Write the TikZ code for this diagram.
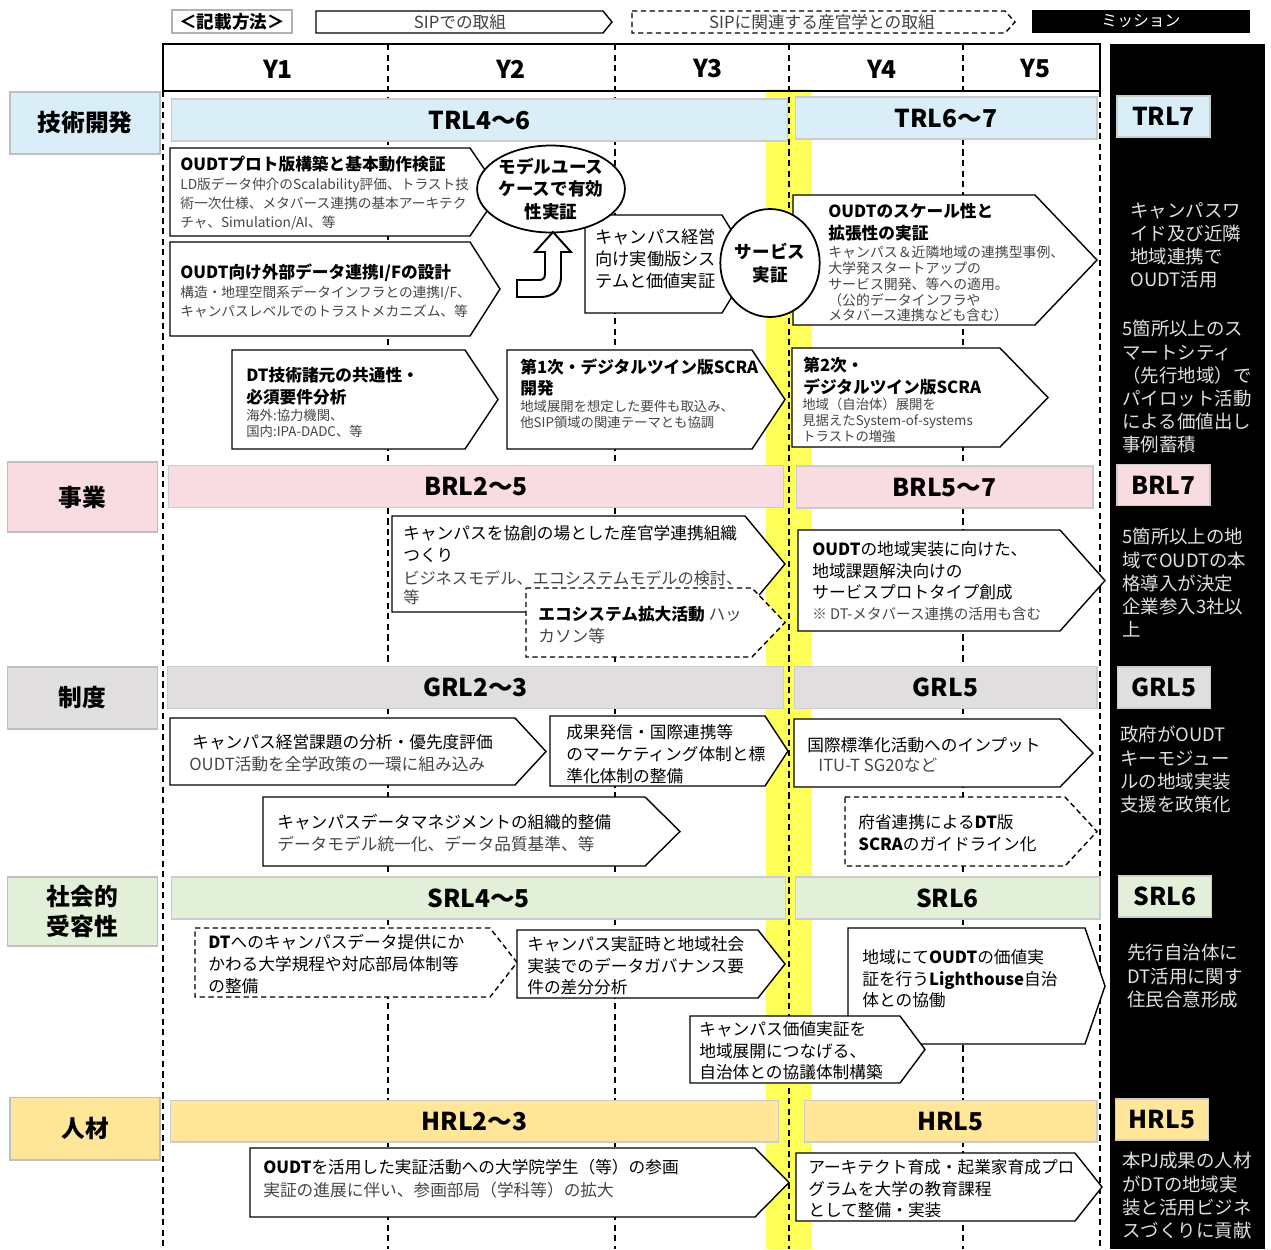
\documentclass[tikz,border=0pt]{standalone}
\usepackage{fontspec}
\setmainfont{Noto Sans CJK JP}
\usetikzlibrary{shapes.geometric}

\definecolor{trlc}{RGB}{218,238,247}
\definecolor{brlc}{RGB}{248,220,226}
\definecolor{grlc}{RGB}{224,222,222}
\definecolor{srlc}{RGB}{226,240,218}
\definecolor{hrlc}{RGB}{255,230,153}
\definecolor{bandc}{RGB}{255,255,90}
\definecolor{subc}{RGB}{70,70,70}

\newcommand{\hdf}{\fontsize{9.5}{12.4}\selectfont}
\newcommand{\smf}{\fontsize{7.8}{11}\selectfont}
\newcommand{\tnf}{\fontsize{7.6}{9.1}\selectfont}
\newcommand{\lvf}{\fontsize{14}{16}\selectfont\bfseries}
\newcommand{\msf}{\fontsize{10.5}{13.2}\selectfont}
% pentagon arrow box: style, left, top, body end, tip, bottom
\newcommand{\pent}[6]{\draw[#1] (#2,#3) -- (#4,#3) -- (#5,{(#3+#6)/2}) -- (#4,#6) -- (#2,#6) -- cycle;}

\tikzset{
  boxline/.style={draw=black, line width=0.8pt, fill=white, line join=miter},
  dashbox/.style={boxline, dash pattern=on 3pt off 2pt},
  gridline/.style={line width=0.7pt, dash pattern=on 3.5pt off 2.5pt},
  head/.style={anchor=north west, inner sep=0pt, align=left, font=\hdf\bfseries},
  plain/.style={anchor=north west, inner sep=0pt, align=left, font=\hdf},
  grey/.style={plain, text=subc},
  note/.style={anchor=north west, inner sep=0pt, align=left, font=\smf, text=subc},
  tnote/.style={note, font=\tnf},
  rowhd/.style={draw=black!25, line width=0.6pt, inner sep=0pt, align=center, font=\fontsize{13.5}{17}\selectfont\bfseries, minimum width=3cm},
  lvl/.style={draw=black!20, line width=0.6pt, inner sep=0pt, font=\lvf, minimum height=0.84cm},
  goal/.style={lvl, minimum width=1.86cm, minimum height=0.82cm},
  yr/.style={font=\lvf, inner sep=0pt},
  mission/.style={anchor=north west, inner sep=0pt, align=left, font=\msf, text=white!88!black},
}

\begin{document}
\begin{tikzpicture}[x=0.02cm, y=-0.02cm]
\fill[white] (0,0) rectangle (1271,1249);
\useasboundingbox (0,0) rectangle (1271,1249);

% legend
\node[draw=black!30, line width=0.6pt, minimum width=2.4cm, minimum height=0.46cm, inner sep=0pt, font=\fontsize{10}{12}\selectfont\bfseries] (legend) at (232,21.5) {＜記載方法＞};
\pent{boxline}{316}{11}{603}{612}{33}
\node[font=\hdf, text=black!75, inner sep=0pt] (sipown) at (460,22) {SIPでの取組};
\pent{dashbox}{632}{11}{1005}{1015}{33}
\node[font=\hdf, text=black!75, inner sep=0pt] (siprel) at (822,22) {SIPに関連する産官学との取組};
\fill[black] (1032,10) rectangle (1250,33);
\node[font=\fontsize{9}{11}\selectfont, text=white, inner sep=0pt] (missionhd) at (1141,21.5) {ミッション};

% background band, column and grid
\fill[bandc] (766,89) rectangle (812,1249);
\fill[black] (1110,44) rectangle (1265,1249);
\foreach \gx in {388,615,789,963}
  \draw[gridline] (\gx,44) -- (\gx,1249);
\draw[gridline] (163,91) -- (163,1249);
\draw[gridline] (1100,91) -- (1100,1249);
\draw[line width=1pt] (163,44) rectangle (1100,91);
\node[yr] (y1) at (278,69) {Y1};
\node[yr] (y2) at (511,69) {Y2};
\node[yr] (y3) at (708,69) {Y3};
\node[yr] (y4) at (882,69) {Y4};
\node[yr] (y5) at (1035,69) {Y5};

% row headers
\node[rowhd, fill=trlc, minimum height=1.24cm] (tech) at (85,123) {技術開発};
\node[rowhd, fill=brlc, minimum height=1.4cm] (biz) at (82.5,497) {事業};
\node[rowhd, fill=grlc, minimum height=1.24cm] (inst) at (82.5,698) {制度};
\node[rowhd, fill=srlc, minimum height=1.38cm] (soc) at (82.5,911.5) {社会的\\受容性};
\node[rowhd, fill=hrlc, minimum height=1.26cm] (hr) at (85,1128.5) {人材};

% readiness levels
\node[lvl, fill=trlc, minimum width=12.34cm] (trla) at (479.5,120) {TRL4～6};
\node[lvl, fill=trlc, minimum width=6.04cm] (trlb) at (946,118) {TRL6～7};
\node[lvl, fill=brlc, minimum width=12.32cm] (brla) at (476,486.5) {BRL2～5};
\node[lvl, fill=brlc, minimum width=5.94cm] (brlb) at (944.5,487) {BRL5～7};
\node[lvl, fill=grlc, minimum width=12.34cm] (grla) at (475.5,687.5) {GRL2～3};
\node[lvl, fill=grlc, minimum width=6.06cm] (grlb) at (945.5,687.5) {GRL5};
\node[lvl, fill=srlc, minimum width=12.3cm] (srla) at (478.5,898) {SRL4～5};
\node[lvl, fill=srlc, minimum width=6.1cm] (srlb) at (947.5,898) {SRL6};
\node[lvl, fill=hrlc, minimum width=12.18cm] (hrla) at (474.5,1121) {HRL2～3};
\node[lvl, fill=hrlc, minimum width=5.86cm] (hrlb) at (950.5,1121) {HRL5};

% mission column
\node[goal, fill=trlc] (trlgoal) at (1163.5,116.5) {TRL7};
\node[mission] (mtech) at (1130,202) {キャンパスワ\\イド及び近隣\\地域連携で\\OUDT活用};
\node[mission] (mcity) at (1122,320) {5箇所以上のス\\マートシティ\\（先行地域）で\\パイロット活動\\による価値出し\\事例蓄積};
\node[goal, fill=brlc] (brlgoal) at (1163.5,485) {BRL7};
\node[mission] (mbiz) at (1122,528) {5箇所以上の地\\域でOUDTの本\\格導入が決定\\企業参入3社以\\上};
\node[goal, fill=grlc] (grlgoal) at (1164,687.5) {GRL5};
\node[mission] (minst) at (1120,726) {政府がOUDT\\キーモジュー\\ルの地域実装\\支援を政策化};
\node[goal, fill=srlc] (srlgoal) at (1165,896.5) {SRL6};
\node[mission] (msoc) at (1127,944) {先行自治体に\\DT活用に関す\\住民合意形成};
\node[goal, fill=hrlc] (hrlgoal) at (1162,1119.5) {HRL5};
\node[mission] (mhr) at (1122,1152) {本PJ成果の人材\\がDTの地域実\\装と活用ビジネ\\スづくりに貢献};

% technology
\pent{boxline}{170}{148}{470}{500}{236}
\node[head] (protohd) at (180,156) {OUDTプロト版構築と基本動作検証};
\node[note] (protonote) at (180,177) {LD版データ仲介のScalability評価、トラスト技\\術一次仕様、メタバース連携の基本アーキテク\\チャ、Simulation/AI、等};
\pent{boxline}{170}{242}{470}{500}{336}
\node[head] (ifhd) at (180,263) {OUDT向け外部データ連携I/Fの設計};
\node[note] (ifnote) at (180,285) {構造・地理空間系データインフラとの連携I/F、\\キャンパスレベルでのトラストメカニズム、等};
\pent{boxline}{585}{215}{722}{752}{313}
\node[plain, font=\fontsize{9.8}{12.4}\selectfont] (campussys) at (595,229) {キャンパス経営\\向け実働版シス\\テムと価値実証};
\node[ellipse, draw, line width=1pt, fill=white, minimum width=2.56cm, minimum height=1.74cm, inner sep=0pt, align=center, font=\fontsize{10}{12.6}\selectfont\bfseries] (usecase) at (551,189) {モデルユース\\ケースで有効\\性実証};
\draw[boxline, line width=1.1pt] (517,297) -- (541,297) .. controls (553,297) and (561,289) .. (561,277) -- (561,252) -- (571,252) -- (553,232) -- (535,252) -- (545,252) -- (545,274) .. controls (545,278) and (543,280) .. (539,280) -- (517,280) -- cycle;
\pent{boxline}{793}{195}{1035}{1097}{325}
\node[head] (scalehd) at (828,203) {OUDTのスケール性と\\拡張性の実証};
\node[tnote, font=\fontsize{7.9}{9.1}\selectfont] (scalenote) at (828,245) {キャンパス＆近隣地域の連携型事例、\\大学発スタートアップの\\サービス開発、等への適用。\\（公的データインフラや\\メタバース連携なども含む）};
\node[ellipse, draw, line width=1pt, fill=white, minimum width=1.88cm, minimum height=2.16cm, inner sep=0pt, align=center, font=\fontsize{10}{13}\selectfont\bfseries] (service) at (770,263) {サービス\\実証};
\pent{boxline}{232}{350}{465}{498}{449}
\node[head] (spechd) at (246,367) {DT技術諸元の共通性・\\必須要件分析};
\node[tnote] (specnote) at (246,409) {海外:協力機関、\\国内:IPA-DADC、等};
\pent{boxline}{507}{350}{752}{785}{449}
\node[head] (scraahd) at (520,358) {第1次・デジタルツイン版SCRA\\開発};
\node[tnote] (scraanote) at (520,400) {地域展開を想定した要件も取込み、\\他SIP領域の関連テーマとも協調};
\pent{boxline}{792}{348}{1000}{1048}{447}
\node[head] (scrabhd) at (803,357) {第2次・\\デジタルツイン版SCRA};
\node[tnote] (scrabnote) at (802,398) {地域（自治体）展開を\\見据えたSystem-of-systems\\トラストの増強};

% business
\pent{boxline}{392}{516}{745}{785}{612}
\node[plain] (orghd) at (403,525) {キャンパスを協創の場とした産官学連携組織\\つくり};
\node[grey, font=\fontsize{9.2}{11}\selectfont] (orgnote) at (403,570) {ビジネスモデル、エコシステムモデルの検討、\\等};
\pent{dashbox}{526}{588}{752}{785}{657}
\node[plain] (hack) at (538,606) {\textbf{エコシステム拡大活動} {\color{subc}ハッ}\\{\color{subc}カソン等}};
\pent{boxline}{798}{530}{1060}{1105}{631}
\node[plain] (prothd) at (812,541) {\textbf{OUDT}の地域実装に向けた、\\地域課題解決向けの\\サービスプロトタイプ創成};
\node[note, font=\fontsize{8.3}{11}\selectfont] (protnote) at (812,607) {※ DT-メタバース連携の活用も含む};

% institution
\pent{boxline}{170}{718}{515}{546}{785}
\node[plain] (issuehd) at (192,734) {キャンパス経営課題の分析・優先度評価};
\node[grey] (issuenote) at (189,756) {OUDT活動を全学政策の一環に組み込み};
\pent{boxline}{550}{716}{765}{788}{786}
\node[plain] (mkt) at (566,724) {成果発信・国際連携等\\のマーケティング体制と標\\準化体制の整備};
\pent{boxline}{794}{719}{1060}{1093}{787}
\node[plain] (ituhd) at (807,737) {国際標準化活動へのインプット};
\node[grey] (itunote) at (818,758) {ITU-T SG20など};
\pent{boxline}{263}{797}{645}{680}{866}
\node[plain] (dmhd) at (277,814) {キャンパスデータマネジメントの組織的整備};
\node[grey] (dmnote) at (277,836) {データモデル統一化、データ品質基準、等};
\pent{dashbox}{845}{797}{1065}{1097}{866}
\node[plain] (guide) at (858,814) {府省連携による\textbf{DT}版\\\textbf{SCRA}のガイドライン化};

% social acceptance
\pent{dashbox}{195}{928}{490}{517}{997}
\node[plain] (rules) at (208,934) {\textbf{DT}へのキャンパスデータ提供にか\\かわる大学規程や対応部局体制等\\の整備};
\pent{boxline}{517}{930}{758}{785}{998}
\node[plain] (govern) at (527,936) {キャンパス実証時と地域社会\\実装でのデータガバナンス要\\件の差分分析};
\pent{boxline}{848}{928}{1085}{1105}{1044}
\node[plain] (lighthouse) at (862,949) {地域にて\textbf{OUDT}の価値実\\証を行う\textbf{Lighthouse}自治\\体との協働};
\pent{boxline}{690}{1016}{900}{925}{1083}
\node[plain] (council) at (699,1021) {キャンパス価値実証を\\地域展開につなげる、\\自治体との協議体制構築};

% human resources
\pent{boxline}{250}{1148}{755}{789}{1217}
\node[plain] (studhd) at (263,1159) {\textbf{OUDT}を活用した実証活動への大学院学生（等）の参画};
\node[grey] (studnote) at (263,1182) {実証の進展に伴い、参画部局（学科等）の拡大};
\pent{boxline}{796}{1153}{1075}{1102}{1221}
\node[plain] (edu) at (808,1159) {アーキテクト育成・起業家育成プロ\\グラムを大学の教育課程\\として整備・実装};
\end{tikzpicture}
\end{document}
